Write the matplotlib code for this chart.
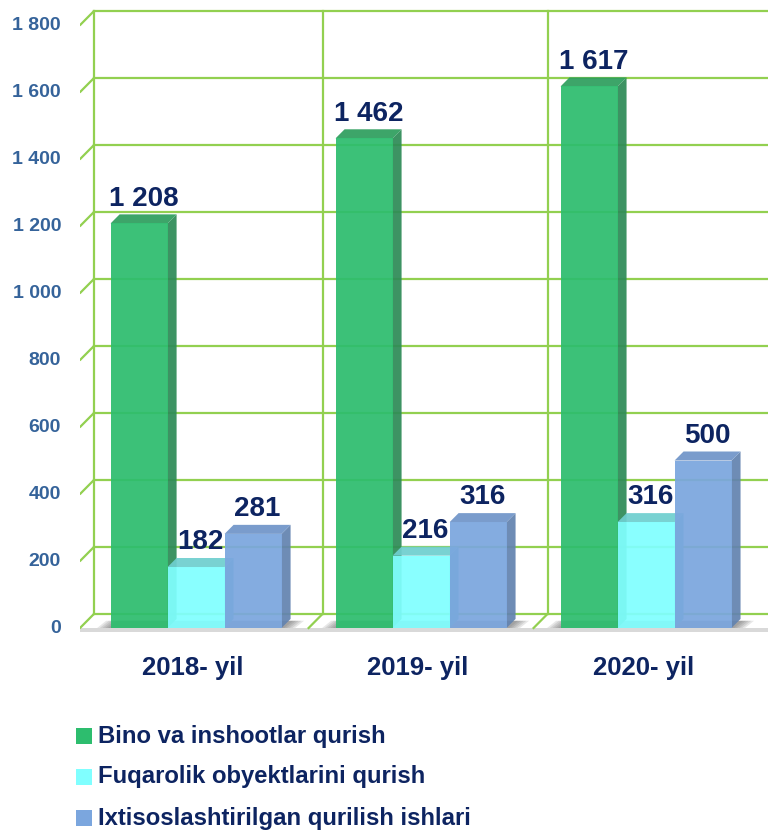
import matplotlib.pyplot as plt
from matplotlib.patches import Polygon, Rectangle
from matplotlib import font_manager

years = ['2018- yil', '2019- yil', '2020- yil']
series = ['Bino va inshootlar qurish', 'Fuqarolik obyektlarini qurish',
          'Ixtisoslashtirilgan qurilish ishlari']
bino = [1208, 1462, 1617]
fuqarolik = [182, 216, 316]
ixtisos = [281, 316, 500]
yticks = list(range(0, 1801, 200))

names = {f.name for f in font_manager.fontManager.ttflist}
narrow = 'Liberation Sans Narrow' if 'Liberation Sans Narrow' in names else 'Liberation Sans'
wide = 'Liberation Sans'

# front, side, top colours
colors = [('#2DBD6E', '#2E8B57', '#2E9E5E'),
          ('#80FFFF', '#5EC9C9', '#6FCFCF'),
          ('#7BA6DE', '#6383B0', '#7095C8')]
grid_c = '#92D050'
navy = '#0D2461'

fig = plt.figure(figsize=(7.68, 8.32), dpi=100)
# pixel = 196 + 225*x ; y: 0 at pixel 628, 0.335 px per unit
ax = fig.add_axes([80/768, (832-640)/832, 688/768, 640/832])
ax.set_xlim(-0.516, 2.542)
ax.set_ylim(-35.8, 1875)
ax.axis('off')

wdx, wdy = 0.062, 42     # back wall offset
bdx, bdy = 0.04, 27      # bar depth
w = 57/225

# floor
ax.add_patch(Polygon([(-0.516, 0), (-0.516+wdx, wdy), (3, wdy), (3, 0)],
                     closed=True, fc='white', ec='none', zorder=1))
ax.add_patch(Rectangle((-0.516, -12), 3.2, 12, fc='#D9D9D9', ec='none', zorder=1))

# soft shadows on the floor
for g in range(3):
    gx0, gx1 = g - 1.5*w, g + 1.5*w
    for i in range(5):
        e = 0.012 * (i + 1)
        ax.add_patch(Polygon([(gx0 - e, 0), (gx0 - e + bdx, bdy*0.8),
                              (gx1 + e + bdx, bdy*0.8), (gx1 + e, 0)],
                             closed=True, fc='#404040', ec='none', alpha=0.12,
                             zorder=2.5))

# back wall grid
for v in yticks:
    ax.plot([-0.516+wdx, 3], [v+wdy, v+wdy], color=grid_c, lw=1.6, zorder=2)
    ax.plot([-0.516, -0.516+wdx], [v, v+wdy], color=grid_c, lw=1.6, zorder=2,
            solid_capstyle='round')
    ax.text(-0.6, v, f'{v:,}'.replace(',', ' '), ha='right', va='center',
            fontsize=14, fontweight='bold', color='#35639A', family=narrow,
            clip_on=False)
for k in range(3):
    xb = k - 0.5 + wdx
    if k == 0:
        xb = -0.516 + wdx
    ax.plot([xb, xb], [wdy, 1800+wdy], color=grid_c, lw=1.6, zorder=2)
    if k > 0:
        ax.plot([k-0.5, k-0.5+wdx], [0, wdy], color=grid_c, lw=1.6, zorder=2)

# bars
for s, vals in enumerate([bino, fuqarolik, ixtisos]):
    front, side, top = colors[s]
    for g, v in enumerate(vals):
        xc = g + (s - 1) * w
        x0, x1 = xc - w/2, xc + w/2
        z = 3 + s
        ax.add_patch(Polygon([(x1, 0), (x1+bdx, bdy), (x1+bdx, v+bdy), (x1, v)],
                             closed=True, fc=side, ec='none', alpha=0.93, zorder=z))
        ax.add_patch(Polygon([(x0, v), (x0+bdx, v+bdy), (x1+bdx, v+bdy), (x1, v)],
                             closed=True, fc=top, ec='none', alpha=0.93, zorder=z))
        ax.add_patch(Rectangle((x0, 0), w, v, fc=front, ec='none', alpha=0.93, zorder=z))
        ax.text(xc + bdx/2, v + bdy + 8, f'{v:,}'.replace(',', ' '),
                ha='center', va='bottom', fontsize=20, fontweight='bold',
                color=navy, family=wide, zorder=10)

# category labels
for g, lab in enumerate(years):
    ax.text(g - 0.013, -120, lab, ha='center', va='center', fontsize=18.5,
            fontweight='bold', color=navy, family=narrow, clip_on=False)

# legend
for s, name in enumerate(series):
    yc = 832 - (736 + s*41)
    fig.patches.append(Rectangle((76/768, (yc-8)/832), 16/768, 16/832,
                                 fc=colors[s][0], ec='none',
                                 transform=fig.transFigure, figure=fig))
    fig.text(98/768, yc/832, name, ha='left', va='center', fontsize=17.2,
             fontweight='bold', color=navy, family=narrow)

fig.savefig('out.png', dpi=100)
